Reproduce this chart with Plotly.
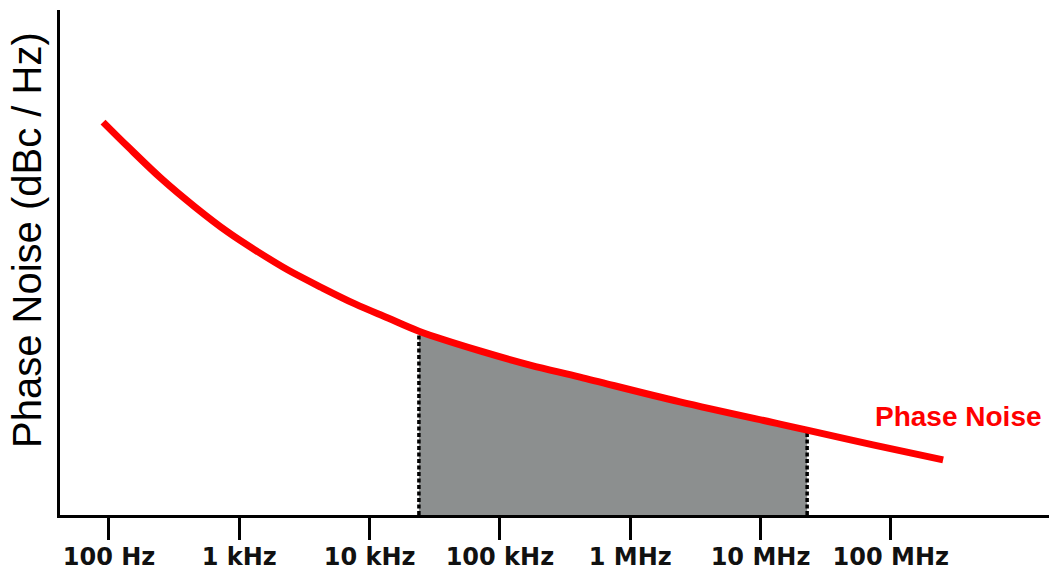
import plotly.graph_objects as go

# Data (frequency offset in Hz, phase noise in dBc/Hz)
freq_hz = [90, 140, 255, 457, 819, 1392, 2365, 4313, 7727, 13840, 23900,
           70300, 170300, 412000, 2410000, 14100000, 22800000, 73000000, 252000000]
noise_dbc = [-102.2, -107.1, -113.5, -119.0, -124.0, -127.9, -131.5, -135.0,
             -138.2, -141.0, -143.6, -147.5, -150.3, -152.7, -157.6, -162.0, -163.2,
             -166.1, -169.1]

# integration band (shaded)
band_start = 23900
band_end = 22800000

tick_vals = [1e2, 1e3, 1e4, 1e5, 1e6, 1e7, 1e8]
tick_text = ["100 Hz", "1 kHz", "10 kHz", "100 kHz", "1 MHz", "10 MHz", "100 MHz"]

y_floor = -180
y_top = -80

band_f = [f for f in freq_hz if band_start <= f <= band_end]
band_n = [n for f, n in zip(freq_hz, noise_dbc) if band_start <= f <= band_end]
start_n = noise_dbc[freq_hz.index(band_start)]
end_n = noise_dbc[freq_hz.index(band_end)]

fig = go.Figure()

# baseline for the fill
fig.add_trace(go.Scatter(x=[band_start, band_end], y=[y_floor, y_floor],
                         mode="lines", line=dict(width=0, color="rgba(0,0,0,0)"),
                         showlegend=False, hoverinfo="skip"))
# shaded integrated area
fig.add_trace(go.Scatter(x=band_f, y=band_n, mode="lines", fill="tonexty",
                         fillcolor="#8c8f8f", line=dict(width=0, shape="spline", color="#8c8f8f"),
                         showlegend=False, hoverinfo="skip"))
# dashed band edges
for f, n in [(band_start, start_n), (band_end, end_n)]:
    fig.add_trace(go.Scatter(x=[f, f], y=[y_floor, n], mode="lines",
                             line=dict(color="black", width=3.5, dash="4px,2.5px"),
                             showlegend=False, hoverinfo="skip"))
# phase noise curve
fig.add_trace(go.Scatter(x=freq_hz, y=noise_dbc, mode="lines",
                         line=dict(color="#ff0000", width=7, shape="spline", smoothing=1.0),
                         showlegend=False, name="Phase Noise"))

fig.add_annotation(x=7.863, y=-160.4, xref="x", yref="y", text="Phase Noise",
                   showarrow=False, xanchor="left", yanchor="middle",
                   font=dict(family="Liberation Sans", size=28, color="#ff0000", weight="bold"))

fig.add_annotation(x=-0.0334, y=0.5446, xref="paper", yref="paper",
                   text="Phase Noise (dBc / Hz)", textangle=-90, showarrow=False,
                   xanchor="center", yanchor="middle",
                   font=dict(family="Liberation Sans", size=40, color="black"))

fig.update_xaxes(type="log", range=[1.624, 9.214], tickvals=tick_vals, ticktext=tick_text,
                 ticks="outside", ticklen=22, tickwidth=3, tickcolor="black",
                 showline=True, linewidth=3, linecolor="black", showgrid=False,
                 zeroline=False, automargin=False, ticklabelstandoff=-4,
                 tickfont=dict(family="DejaVu Sans", size=24, color="#111111", weight="bold"))
fig.update_yaxes(range=[y_floor, y_top], showline=True, linewidth=3, linecolor="black",
                 showgrid=False, zeroline=False, showticklabels=False, ticks="",
                 automargin=False)

fig.update_layout(width=1049, height=571, margin=dict(l=60, r=0, t=10, b=56),
                  plot_bgcolor="white", paper_bgcolor="white")

fig.write_html("out.html", config={"displayModeBar": False},
               post_script="document.body.style.margin='0';")
